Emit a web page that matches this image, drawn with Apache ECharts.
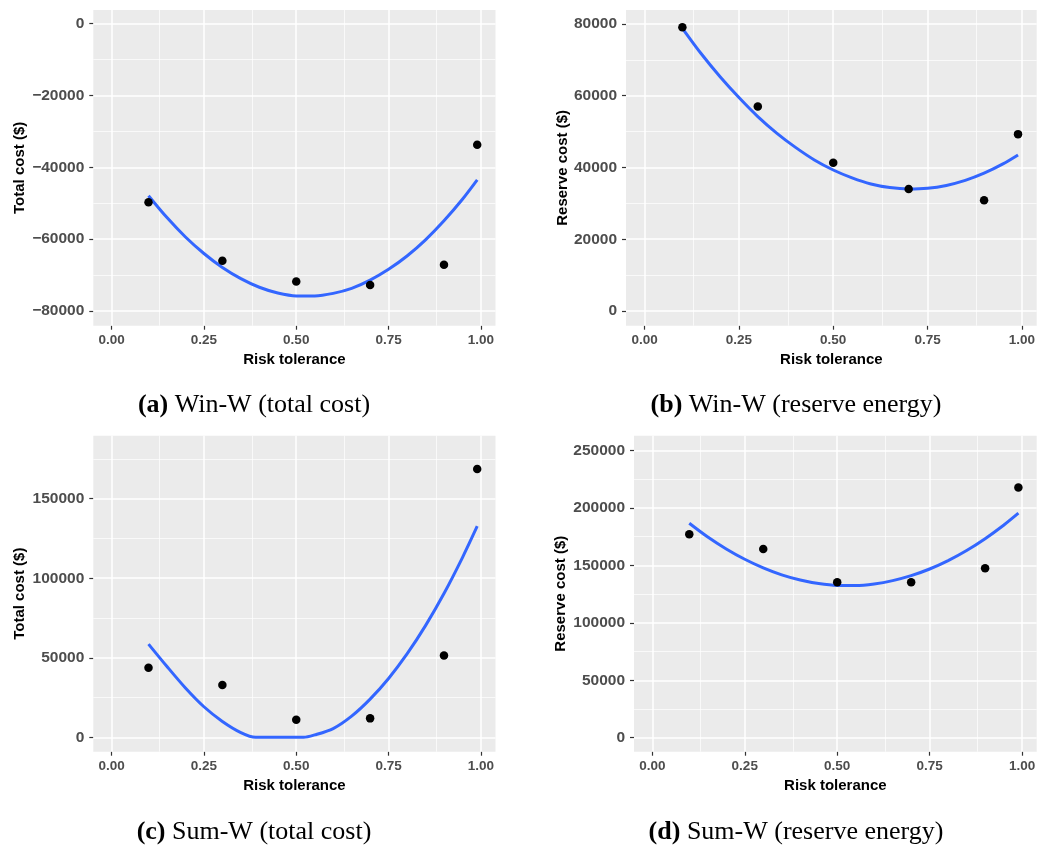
<!DOCTYPE html>
<html>
<head>
<meta charset="utf-8">
<script src="https://cdn.jsdelivr.net/npm/echarts@6/dist/echarts.min.js"></script>
<style>
  html, body { margin: 0; padding: 0; background: #ffffff; }
  #chart { width: 1040px; height: 848px; }
</style>
</head>
<body>
<div id="chart"></div>
<script>
// ---------- data ----------
const riskX = [0.1, 0.3, 0.5, 0.7, 0.9, 0.99];

const winTotalPts   = [-49700, -66000, -71800, -72800, -67100, -33700];
const winReservePts = [79100, 57000, 41300, 34000, 30900, 49300];
const sumTotalPts   = [43700, 32900, 11100, 11900, 51500, 168600];
const sumReservePts = [177200, 164400, 135400, 135400, 147600, 217800];

const fitX = [0.1, 0.15, 0.2, 0.25, 0.3, 0.35, 0.4, 0.45, 0.5, 0.55, 0.6, 0.65, 0.7, 0.75, 0.8, 0.85, 0.9, 0.95, 0.99];
const winTotalFit   = [-47900, -54000, -59400, -64000, -67900, -71000, -73400, -75000, -75800, -75800, -75100, -73700, -71400, -68400, -64700, -60200, -54900, -48900, -43500];
const winReserveFit = [78800, 71700, 65300, 59500, 54200, 49600, 45600, 42100, 39300, 37100, 35400, 34400, 34000, 34200, 35000, 36400, 38400, 41000, 43500];
const sumReserveFit = [186800, 174800, 164400, 155400, 147900, 141800, 137300, 134200, 132600, 132500, 133900, 136800, 141100, 146900, 154200, 163000, 173300, 185000, 195500];

const sumTotalFitX = [0.1, 0.15, 0.2, 0.25, 0.3, 0.35, 0.39, 0.45, 0.52, 0.55, 0.6, 0.65, 0.7, 0.75, 0.8, 0.85, 0.9, 0.95, 0.99];
const sumTotalFit  = [58600, 44500, 31000, 19200, 10000, 3000, 0, 0, 0, 1500, 5500, 13300, 24000, 37000, 52400, 70200, 90400, 113000, 132700];

const xTicks = [0, 0.25, 0.5, 0.75, 1];
const xMinor = [0.125, 0.375, 0.625, 0.875];

const yTicksA = [-80000, -60000, -40000, -20000, 0];
const yMinorA = [-70000, -50000, -30000, -10000];
const yTicksB = [0, 20000, 40000, 60000, 80000];
const yMinorB = [10000, 30000, 50000, 70000];
const yTicksC = [0, 50000, 100000, 150000];
const yMinorC = [25000, 75000, 125000, 175000];
const yTicksD = [0, 50000, 100000, 150000, 200000, 250000];
const yMinorD = [25000, 75000, 125000, 175000, 225000];

const captions = [
  ['(a)', ' Win-W (total cost)'],
  ['(b)', ' Win-W (reserve energy)'],
  ['(c)', ' Sum-W (total cost)'],
  ['(d)', ' Sum-W (reserve energy)']
];
const yTitles = ['Total cost ($)', 'Reserve cost ($)', 'Total cost ($)', 'Reserve cost ($)'];
const xTitle = 'Risk tolerance';

// ---------- layout ----------
const grids = [
  { left: 93.3, top: 10,    width: 402.2, height: 315.7 },
  { left: 626,  top: 10,    width: 410.7, height: 315.7 },
  { left: 93.3, top: 435.7, width: 402.2, height: 316 },
  { left: 634,  top: 435.7, width: 402.7, height: 316 }
];
const yRanges = [[-84100, 3800], [-4100, 83900], [-9050, 189600], [-12200, 263000]];
const yNameGaps = [66, 56, 66, 66];
const panels = [
  { pts: winTotalPts,   fx: fitX,         fy: winTotalFit,   yt: yTicksA, ym: yMinorA },
  { pts: winReservePts, fx: fitX,         fy: winReserveFit, yt: yTicksB, ym: yMinorB },
  { pts: sumTotalPts,   fx: sumTotalFitX, fy: sumTotalFit,   yt: yTicksC, ym: yMinorC },
  { pts: sumReservePts, fx: fitX,         fy: sumReserveFit, yt: yTicksD, ym: yMinorD }
];
const captionPos = [[254, 405], [796, 405], [254, 832], [796, 832]];

const fmtY = v => (v < 0 ? '\u2212' + Math.abs(v) : String(v));

const option = {
  backgroundColor: '#ffffff',
  animation: false,
  grid: grids.map(g => Object.assign({ show: true, backgroundColor: '#EBEBEB', borderWidth: 0, containLabel: false }, g)),
  xAxis: grids.map((g, i) => ({
    gridIndex: i,
    type: 'value',
    position: 'bottom',
    min: -0.0495,
    max: 1.0395,
    name: xTitle,
    nameLocation: 'middle',
    nameGap: 27,
    nameTextStyle: { fontFamily: 'Liberation Sans', fontWeight: 'bold', fontSize: 15, color: '#000' },
    axisLine: { show: false, onZero: false },
    splitLine: { show: false },
    axisTick: { show: true, inside: false, length: 4, customValues: xTicks, lineStyle: { color: '#333333', width: 1.2 } },
    axisLabel: {
      customValues: xTicks,
      margin: 8,
      fontFamily: 'Liberation Sans', fontWeight: 'bold', fontSize: 13.5, color: '#4D4D4D',
      formatter: v => v.toFixed(2)
    }
  })),
  yAxis: grids.map((g, i) => ({
    gridIndex: i,
    type: 'value',
    position: 'left',
    min: yRanges[i][0],
    max: yRanges[i][1],
    name: yTitles[i],
    nameLocation: 'middle',
    nameGap: yNameGaps[i],
    nameTextStyle: { fontFamily: 'Liberation Sans', fontWeight: 'bold', fontSize: 15, color: '#000' },
    axisLine: { show: false, onZero: false },
    splitLine: { show: false },
    axisTick: { show: true, inside: false, length: 4, customValues: panels[i].yt, lineStyle: { color: '#333333', width: 1.2 } },
    axisLabel: {
      customValues: panels[i].yt,
      margin: 9,
      fontFamily: 'Liberation Sans', fontWeight: 'bold', fontSize: 15.5, color: '#4D4D4D',
      formatter: fmtY
    }
  })),
  series: [],
  graphic: captions.map((c, i) => ({
    type: 'text',
    x: captionPos[i][0],
    y: captionPos[i][1],
    style: {
      text: '{b|' + c[0] + '}{n|' + c[1] + '}',
      align: 'center',
      verticalAlign: 'middle',
      rich: {
        b: { fontFamily: 'Liberation Serif', fontWeight: 'bold', fontSize: 26, fill: '#000' },
        n: { fontFamily: 'Liberation Serif', fontWeight: 'normal', fontSize: 26, fill: '#000' }
      }
    }
  }))
};

panels.forEach((p, i) => {
  const lines = [];
  xTicks.forEach(v => lines.push({ xAxis: v, lineStyle: { width: 1.5 } }));
  xMinor.forEach(v => lines.push({ xAxis: v, lineStyle: { width: 0.7 } }));
  p.yt.forEach(v => lines.push({ yAxis: v, lineStyle: { width: 1.5 } }));
  p.ym.forEach(v => lines.push({ yAxis: v, lineStyle: { width: 0.7 } }));
  option.series.push({
    type: 'line', xAxisIndex: i, yAxisIndex: i, data: [], z: 1, silent: true,
    markLine: {
      z: 1, zlevel: 0,
      silent: true, symbol: ['none', 'none'], label: { show: false }, animation: false,
      emphasis: { disabled: true },
      lineStyle: { color: '#ffffff', type: 'solid' },
      data: lines
    }
  });
  option.series.push({
    type: 'line', xAxisIndex: i, yAxisIndex: i, z: 3,
    data: p.fx.map((x, k) => [x, p.fy[k]]),
    smooth: 0.3, showSymbol: false, silent: true,
    lineStyle: { color: '#3366FF', width: 3 }
  });
  option.series.push({
    type: 'scatter', xAxisIndex: i, yAxisIndex: i, z: 4,
    data: riskX.map((x, k) => [x, p.pts[k]]),
    symbolSize: 8.5, itemStyle: { color: '#000000', opacity: 1 }, silent: true
  });
});

const chart = echarts.init(document.getElementById('chart'), null, { renderer: 'canvas' });
chart.setOption(option);
</script>
</body>
</html>
